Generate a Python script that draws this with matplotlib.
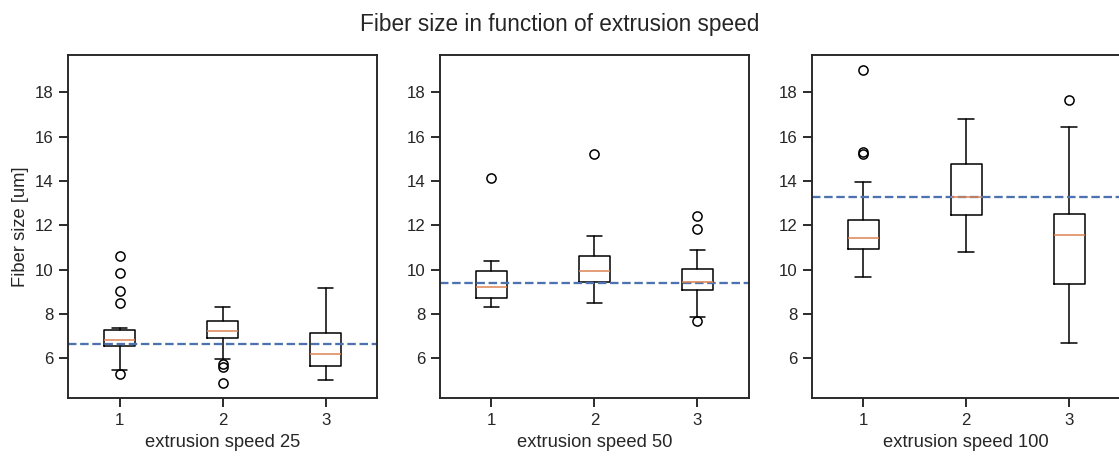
"""Fiber size vs extrusion speed: box plots per speed, with the mean of each speed."""

import matplotlib
matplotlib.use("Agg")
import matplotlib.pyplot as plt
import seaborn as sns

# extrusion speeds (one panel each) and samples within each panel
speeds = [25, 50, 100]
samples = ["1", "2", "3"]

# box statistics, per speed, per sample
medians = [[6.81, 7.22, 6.18], [9.21, 9.95, 9.45], [11.43, 13.30, 11.58]]
q1s = [[6.53, 6.90, 5.65], [8.71, 9.44, 9.09], [10.95, 12.45, 9.35]]
q3s = [[7.28, 7.68, 7.14], [9.92, 10.60, 10.01], [12.26, 14.77, 12.50]]
whislos = [[5.46, 5.98, 5.01], [8.29, 8.49, 7.84], [9.65, 10.78, 6.68]]
whishis = [[7.38, 8.32, 9.16], [10.40, 11.52, 10.88], [13.94, 16.78, 16.46]]
fliers = [
    [[10.62, 9.83, 9.02, 8.48, 5.28], [5.73, 5.58, 4.90], []],
    [[14.14], [15.23], [12.44, 11.82, 7.66]],
    [[19.01, 15.33, 15.21], [], [17.67]],
]
# mean fiber size per speed (dashed line)
means = [6.65, 9.38, 13.30]

sns.set_theme(style="ticks")
plt.rcParams["font.family"] = ["Liberation Sans", "DejaVu Sans"]

DPI = 110
fig, axes = plt.subplots(1, 3, figsize=(1119 / DPI, 457 / DPI), dpi=DPI, sharey=True)
fig.subplots_adjust(left=0.061, right=1.0015, top=0.88, bottom=0.129, wspace=0.203)

for i, ax in enumerate(axes):
    stats = []
    for j, name in enumerate(samples):
        stats.append({
            "label": name,
            "med": medians[i][j],
            "q1": q1s[i][j],
            "q3": q3s[i][j],
            "whislo": whislos[i][j],
            "whishi": whishis[i][j],
            "fliers": fliers[i][j],
        })
    ax.bxp(stats, positions=[1, 2, 3])
    ax.axhline(means[i], color="C0", linestyle="--", linewidth=1.5)
    ax.set_xlabel(f"extrusion speed {speeds[i]}")
    ax.tick_params(labelleft=True)

axes[0].set_ylim(4.2, 19.7)
axes[0].set_yticks([6, 8, 10, 12, 14, 16, 18])
axes[0].set_ylabel("Fiber size [um]")

fig.suptitle("Fiber size in function of extrusion speed", fontsize=14.8, y=0.972)

fig.savefig("out.png", dpi=DPI)
